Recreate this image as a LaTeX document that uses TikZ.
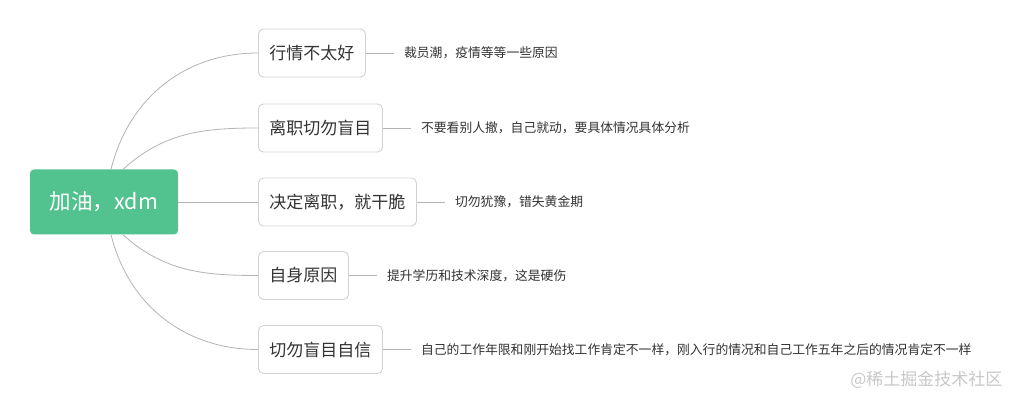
\documentclass[tikz,border=0pt]{standalone}
\usepackage{fontspec}
\setmainfont{Noto Sans CJK SC}
\usetikzlibrary{positioning}
\definecolor{rootgreen}{HTML}{52C28E}
\definecolor{boxgray}{HTML}{D2D2D2}
\definecolor{linegray}{HTML}{B4B4B4}
\definecolor{textgray}{HTML}{333333}
\definecolor{markgray}{HTML}{C8C8C8}

\begin{document}
\begin{tikzpicture}[x=1pt,y=1pt,
    rootbox/.style={fill=rootgreen,rounded corners=4pt,text=white,minimum width=148pt,
        minimum height=65pt,font=\fontsize{21.5}{24}\selectfont},
    topicbox/.style={draw=boxgray,line width=0.9pt,fill=white,rounded corners=5pt,anchor=west,
        minimum height=48pt,inner xsep=11pt,text=textgray,font=\fontsize{17}{20}\selectfont},
    leafnote/.style={anchor=west,inner xsep=10pt,text=textgray,font=\fontsize{12.8}{15}\selectfont},
    link/.style={draw=linegray,line width=0.8pt}]
    % Canvas
    \useasboundingbox[fill=white] (0,0) rectangle (1017,404);

    % Root
    \node[rootbox] (root) at (104,202) {加油，xdm};

    % Topics
    \node[topicbox] (b1) at (258,351) {行情不太好};
    \node[topicbox] (b2) at (258,276) {离职切勿盲目};
    \node[topicbox] (b3) at (258,202) {决定离职，就干脆};
    \node[topicbox] (b4) at (258,128.5) {自身原因};
    \node[topicbox] (b5) at (258,54.5) {切勿盲目自信};

    % Root to topics
    \draw[link] ([xshift=7pt]root.north) to[out=76,in=180] (b1.west);
    \draw[link] ([xshift=19pt]root.north) to[out=42,in=180] (b2.west);
    \draw[link] (root.east) -- (b3.west);
    \draw[link] ([xshift=19pt]root.south) to[out=-42,in=180] (b4.west);
    \draw[link] ([xshift=7pt]root.south) to[out=-76,in=180] (b5.west);

    % Notes
    \node[leafnote] (l1) at ([xshift=28pt]b1.east) {裁员潮，疫情等等一些原因};
    \node[leafnote] (l2) at ([xshift=28pt]b2.east) {不要看别人撤，自己就动，要具体情况具体分析};
    \node[leafnote] (l3) at ([xshift=28pt]b3.east) {切勿犹豫，错失黄金期};
    \node[leafnote] (l4) at ([xshift=28pt]b4.east) {提升学历和技术深度，这是硬伤};
    \node[leafnote] (l5) at ([xshift=28pt]b5.east) {自己的工作年限和刚开始找工作肯定不一样，刚入行的情况和自己工作五年之后的情况肯定不一样};
    \foreach \i in {1,2,3,4,5} {
        \draw[link] (b\i.east) -- (l\i.west);
    }

    % Watermark
    \node[anchor=east,text=markgray,font=\fontsize{17}{20}\selectfont] (mark) at (1006,24) {@稀土掘金技术社区};
\end{tikzpicture}
\end{document}
